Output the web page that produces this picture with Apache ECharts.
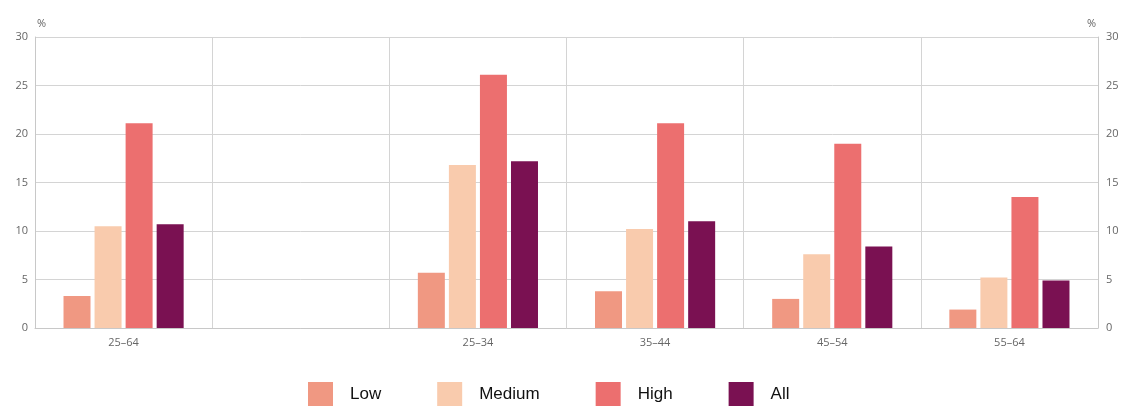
<!DOCTYPE html>
<html>
<head>
<meta charset="utf-8">
<script src="https://cdn.jsdelivr.net/npm/echarts@6/dist/echarts.min.js"></script>
<style>
  html, body { margin: 0; padding: 0; background: #fff; }
  #chart { width: 1128px; height: 407px; }
</style>
</head>
<body>
<div id="chart"></div>
<script>
// Age groups (the blank slot separates the total from the age bands)
const categories = ['25–64', '', '25–34', '35–44', '45–54', '55–64'];
const yTicks = [0, 5, 10, 15, 20, 25, 30];

// Share in %, by education level
const lowValues    = [3.3, null, 5.7, 3.8, 3.0, 1.9];
const mediumValues = [10.5, null, 16.8, 10.2, 7.6, 5.2];
const highValues   = [21.1, null, 26.1, 21.1, 19.0, 13.5];
const allValues    = [10.7, null, 17.2, 11.0, 8.4, 4.9];

const seriesNames = ['Low', 'Medium', 'High', 'All'];
const seriesColors = ['#f09882', '#f9cbad', '#ec6f6f', '#7a1152'];
const seriesValues = [lowValues, mediumValues, highValues, allValues];

const chart = echarts.init(document.getElementById('chart'));

const axisLabelStyle = { color: '#666', fontSize: 11, fontFamily: 'Open Sans' };
const gridLine = { lineStyle: { color: '#d4d4d4', width: 1 } };

function valueAxis(position) {
  return {
    type: 'value',
    position: position,
    min: yTicks[0],
    max: yTicks[yTicks.length - 1],
    interval: 5,
    name: '%',
    nameLocation: 'end',
    nameGap: 8,
    nameTextStyle: {
      color: '#666', fontSize: 11, fontFamily: 'Open Sans',
      align: position === 'left' ? 'left' : 'right',
      padding: position === 'left' ? [0, 0, 0, 2] : [0, 2, 0, 0]
    },
    axisLine: { show: true, lineStyle: { color: '#c8c8c8' } },
    axisTick: { show: false },
    axisLabel: Object.assign({ margin: position === 'left' ? 7 : 8 }, axisLabelStyle),
    splitLine: position === 'left' ? Object.assign({ show: true }, gridLine) : { show: false }
  };
}

chart.setOption({
  animation: false,
  backgroundColor: '#fff',
  grid: { left: 35, right: 30, top: 37, bottom: 79, containLabel: false },
  legend: {
    data: seriesNames,
    top: 377,
    left: 303,
    icon: 'rect',
    itemWidth: 25,
    itemHeight: 24,
    itemGap: 56,
    textStyle: { color: '#111', fontSize: 17, fontFamily: 'Liberation Sans', padding: [0, 0, 0, 12] },
    selectedMode: false
  },
  xAxis: {
    type: 'category',
    data: categories,
    boundaryGap: true,
    axisLine: { show: true, lineStyle: { color: '#c8c8c8' } },
    axisTick: { show: false },
    axisLabel: Object.assign({ margin: 9, interval: 0 }, axisLabelStyle),
    splitLine: { show: true, interval: 0, lineStyle: { color: '#d4d4d4', width: 1 } }
  },
  yAxis: [valueAxis('left'), valueAxis('right')],
  series: seriesNames.map((name, i) => ({
    name: name,
    type: 'bar',
    data: seriesValues[i],
    yAxisIndex: 0,
    barWidth: 27,
    barGap: '15%',
    itemStyle: { color: seriesColors[i] }
  }))
});
</script>
</body>
</html>
